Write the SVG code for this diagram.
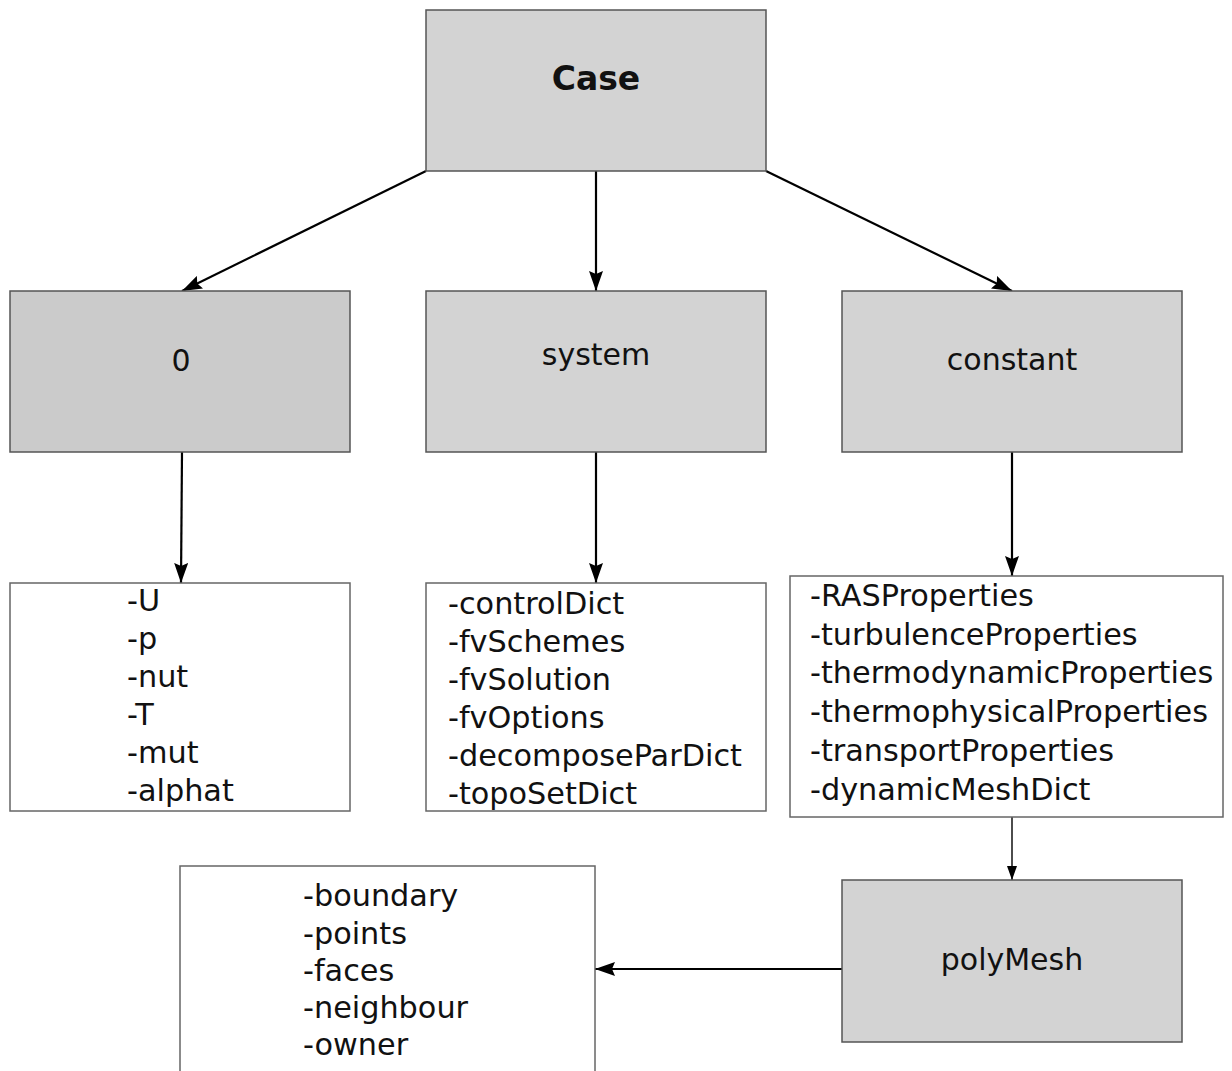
<svg xmlns="http://www.w3.org/2000/svg" width="1232" height="1071" viewBox="0 0 1232 1071">
<defs>
<style>
.box{fill:#d3d3d3;stroke:#555;stroke-width:1.5}
.list{fill:#fff;stroke:#666;stroke-width:1.5}
.lbl{font-family:"DejaVu Sans",sans-serif;font-size:30px;fill:#111;text-anchor:middle}
.bold{font-weight:bold;font-size:33px}
.item{font-family:"DejaVu Sans",sans-serif;font-size:30.3px;fill:#111}
.conn{stroke:#000;stroke-width:2.2;fill:none}
.thin{stroke:#000;stroke-width:1.4;fill:none}
</style>
<marker id="ahb" viewBox="0 0 20 14" refX="20" refY="7" markerWidth="20" markerHeight="14" orient="auto" markerUnits="userSpaceOnUse">
<path d="M0,0 L20,7 L0,14 L3,7 z" fill="#000"/>
</marker>
<marker id="ahs" viewBox="0 0 14 10" refX="14" refY="5" markerWidth="14" markerHeight="10" orient="auto" markerUnits="userSpaceOnUse">
<path d="M0,0 L14,5 L0,10 z" fill="#000"/>
</marker>
</defs>
<rect width="1232" height="1071" fill="#fff"/>

<g id="connectors">
<line class="conn" x1="426" y1="171" x2="182" y2="291" marker-end="url(#ahb)"/>
<line class="conn" x1="596" y1="171" x2="596" y2="291" marker-end="url(#ahb)"/>
<line class="conn" x1="766" y1="171" x2="1012" y2="291" marker-end="url(#ahb)"/>
<line class="conn" x1="182" y1="452" x2="181" y2="583" marker-end="url(#ahb)"/>
<line class="conn" x1="596" y1="452" x2="596" y2="583" marker-end="url(#ahb)"/>
<line class="conn" x1="1012" y1="452" x2="1012" y2="576" marker-end="url(#ahb)"/>
<line class="thin" x1="1012" y1="817" x2="1012" y2="880" marker-end="url(#ahs)"/>
<line class="conn" x1="842" y1="969" x2="595" y2="969" marker-end="url(#ahb)"/>
</g>

<g id="case">
<rect class="box" x="426" y="10" width="340" height="161"/>
<text class="lbl bold" x="596" y="90">Case</text>
</g>

<g id="zero">
<rect class="box" x="10" y="291" width="340" height="161" style="fill:#cbcbcb"/>
<text class="lbl" x="181" y="371">0</text>
</g>

<g id="system">
<rect class="box" x="426" y="291" width="340" height="161"/>
<text class="lbl" x="596" y="365">system</text>
</g>

<g id="constant">
<rect class="box" x="842" y="291" width="340" height="161"/>
<text class="lbl" x="1012" y="370">constant</text>
</g>

<g id="zero-files">
<rect class="list" x="10" y="583" width="340" height="228"/>
<text class="item" x="127" y="611">-U</text>
<text class="item" x="127" y="649">-p</text>
<text class="item" x="127" y="687">-nut</text>
<text class="item" x="127" y="725">-T</text>
<text class="item" x="127" y="763">-mut</text>
<text class="item" x="127" y="801">-alphat</text>
</g>

<g id="system-files">
<rect class="list" x="426" y="583" width="340" height="228"/>
<text class="item" x="448" y="614">-controlDict</text>
<text class="item" x="448" y="652">-fvSchemes</text>
<text class="item" x="448" y="690">-fvSolution</text>
<text class="item" x="448" y="728">-fvOptions</text>
<text class="item" x="448" y="766">-decomposeParDict</text>
<text class="item" x="448" y="804">-topoSetDict</text>
</g>

<g id="constant-files">
<rect class="list" x="790" y="576" width="433" height="241"/>
<text class="item" x="810" y="606">-RASProperties</text>
<text class="item" x="810" y="645">-turbulenceProperties</text>
<text class="item" x="810" y="683">-thermodynamicProperties</text>
<text class="item" x="810" y="722">-thermophysicalProperties</text>
<text class="item" x="810" y="761">-transportProperties</text>
<text class="item" x="810" y="800">-dynamicMeshDict</text>
</g>

<g id="polymesh">
<rect class="box" x="842" y="880" width="340" height="162"/>
<text class="lbl" x="1012" y="970">polyMesh</text>
</g>

<g id="polymesh-files">
<rect class="list" x="180" y="866" width="415" height="215"/>
<text class="item" x="303" y="906">-boundary</text>
<text class="item" x="303" y="944">-points</text>
<text class="item" x="303" y="981">-faces</text>
<text class="item" x="303" y="1018">-neighbour</text>
<text class="item" x="303" y="1055">-owner</text>
</g>
</svg>
